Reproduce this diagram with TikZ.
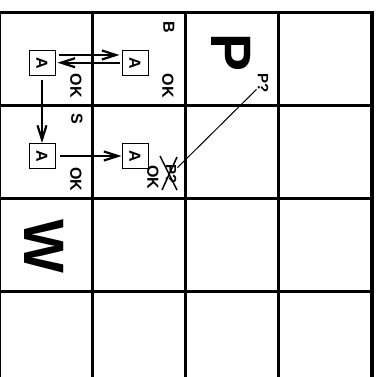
\documentclass[tikz,border=0pt]{standalone}
\usepackage{fontspec}
\setmainfont{Liberation Sans}
\usetikzlibrary{arrows.meta}
\begin{document}
\begin{tikzpicture}[x=1pt,y=-1pt,
  gridline/.style={line width=3pt},
  outer/.style={line width=4pt},
  agent/.style={draw,line width=1pt,minimum width=26pt,minimum height=25pt,inner sep=0pt,font=\fontsize{16}{16}\selectfont\bfseries},
  lbl/.style={rotate=-90,inner sep=0pt,font=\fontsize{16}{16}\selectfont\bfseries},
  bigletter/.style={rotate=-90,inner sep=0pt,font=\fontsize{57}{57}\selectfont\bfseries},
  smalllbl/.style={rotate=-90,inner sep=1pt,font=\fontsize{15}{15}\selectfont\bfseries},
  move/.style={line width=2.2pt,-{Straight Barb[length=14pt,width=9pt]}},
  thin/.style={line width=1pt},
  cross/.style={line width=1.5pt},
]
\useasboundingbox (0,0) rectangle (380,377);
\clip (0,0) rectangle (380,377);
% grid
\foreach \x in {-0.5,92.5,185.5,278.5} \draw[gridline] (\x,11.5) -- (\x,380);
\foreach \y in {105.5,198,291} \draw[gridline] (-2,\y) -- (372,\y);
\draw[gridline] (-2,13) -- (374,13);
\draw[outer] (372,11.5) -- (372,380);
% agents
\node[agent] (a11) at (42,63.5) {\rotatebox{-90}{A}};
\node[agent] (a21) at (135,63.5) {\rotatebox{-90}{A}};
\node[agent] (a12) at (42,156) {\rotatebox{-90}{A}};
\node[agent] (a22) at (135,156) {\rotatebox{-90}{A}};
% labels
\node[lbl] (ok11) at (76,86) {OK};
\node[lbl] (ok21) at (168,86) {OK};
\node[lbl] (ok12) at (76,179) {OK};
\node[lbl] (ok22) at (153,177) {OK};
\node[lbl] (b21) at (169,27) {B};
\node[lbl] (s12) at (77,119) {S};
\node[bigletter] (pit) at (231,53) {P};
\node[bigletter] (wump) at (44.5,246.5) {W};
\node[smalllbl] (pq1) at (263,83) {P?};
\node[smalllbl] (pq2) at (171,174) {P?};
% cross over the refuted P?
\draw[cross] (160,156) -- (177,190);
\draw[cross] (177,157) -- (162,190);
\draw[thin] (pq2) -- (pq1);
% moves
\draw[move] ([yshift=8.5pt,xshift=3pt]a11.east) -- ([yshift=8.5pt,xshift=-2pt]a21.west);
\draw[move] ([yshift=0.8pt,xshift=-2pt]a21.west) -- ([yshift=0.8pt,xshift=2pt]a11.east);
\draw[move] ([yshift=-4pt]a11.south) -- (a12.north);
\draw[move] ([xshift=4pt]a12.east) -- (a22.west);
\end{tikzpicture}
\end{document}
